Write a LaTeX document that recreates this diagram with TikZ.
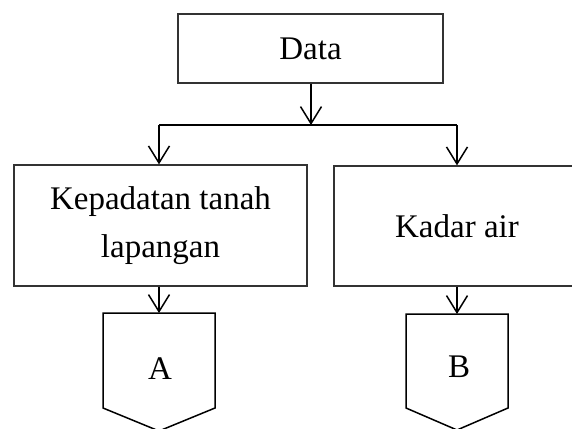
\documentclass[tikz,border=0pt]{standalone}
\usepackage{fontspec}
\setmainfont{Liberation Serif}
\usetikzlibrary{arrows.meta}
\begin{document}
\begin{tikzpicture}[x=1pt,y=-1pt,
  box/.style={draw=black!80,line width=1.3pt,inner sep=0pt,align=center,
    font=\fontsize{33}{48}\selectfont},
  conn/.style={line width=1.5pt,-{Straight Barb[length=17pt,width=21pt,line width=1.5pt]}},
  offpage/.style={draw=black,line width=1.5pt},
  lbl/.style={font=\fontsize{33}{48}\selectfont}]
\useasboundingbox (0,0) rectangle (572,428);
\clip (0,0) rectangle (572,428);
\node[box,minimum width=265pt,minimum height=69pt] (data) at (310.5,48.5) {Data};
\node[box,minimum width=293pt,minimum height=121pt] (kep) at (160.5,225.5) {Kepadatan tanah\\lapangan};
\node[box,minimum width=246pt,minimum height=120pt] (kad) at (457,226) {Kadar air};
\coordinate (j) at (311,125);
\coordinate (ja) at (159,125);
\coordinate (jb) at (457,125);
\coordinate (ta) at (159,313);
\coordinate (tb) at (457,314);
\draw[offpage] (103,313) -- (215,313) -- (215,408) -- (159,431) -- (103,408) -- cycle;
\draw[offpage] (406,314) -- (508,314) -- (508,408) -- (457,430) -- (406,408) -- cycle;
\node[lbl] (a) at (160,369) {A};
\node[lbl] (b) at (459,367) {B};
\draw[conn] (data.south -| j) -- (j);
\draw[line width=1.5pt] (ja) -- (jb);
\draw[conn] (ja) -- (kep.north -| ja);
\draw[conn] (jb) -- (kad.north -| jb);
\draw[conn] (kep.south -| ta) -- (ta);
\draw[conn] (kad.south -| tb) -- (tb);
\end{tikzpicture}
\end{document}
